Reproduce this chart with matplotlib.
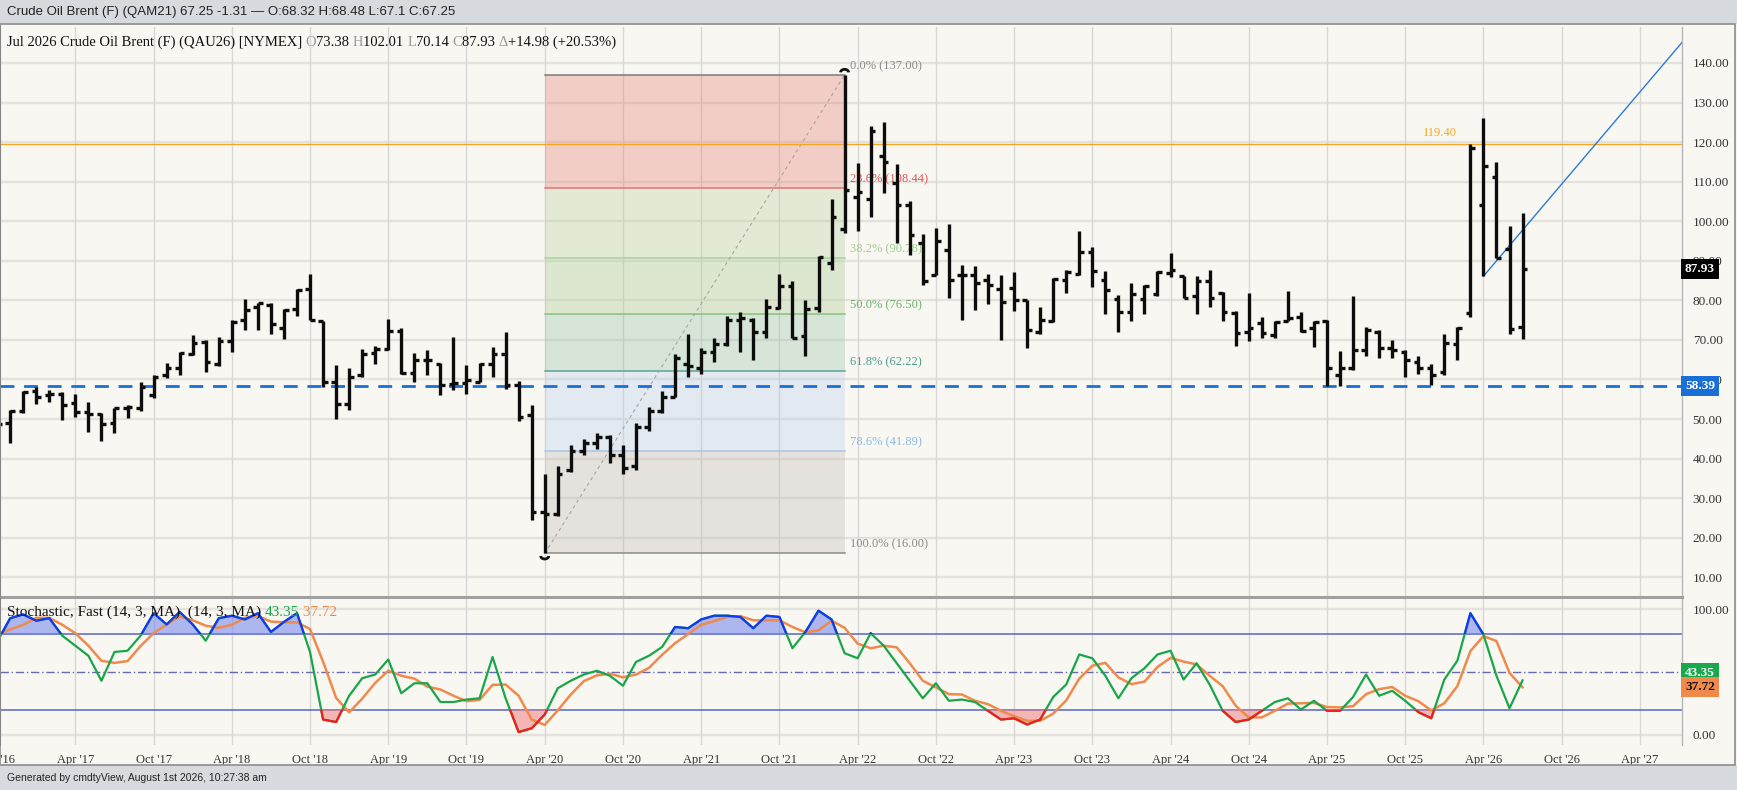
import numpy as np
import pandas as pd
import matplotlib
matplotlib.use('Agg')
import matplotlib.pyplot as plt
import matplotlib.transforms as mtransforms
from matplotlib.collections import LineCollection
from matplotlib.patches import Rectangle, Arc


# monthly bars, Oct 2016 .. Jul 2026
periods = pd.period_range('2016-10', '2026-07', freq='M')

opens = [
    50.0, 48.9, 52.0,
    57.0, 56.0, 56.3, 54.0, 51.8, 51.3, 48.9, 52.7, 52.7, 56.1, 61.1, 62.8,
    66.4, 69.5, 64.0, 69.7, 75.0, 78.3, 78.7, 73.1, 77.9, 82.9, 74.8, 59.4,
    53.8, 61.1, 66.6, 67.6, 72.3, 61.7, 65.0, 64.0, 58.8, 59.0, 59.4, 63.9,
    66.5, 58.5, 51.0, 26.5, 26.0, 37.0, 42.0, 44.0, 45.5, 41.0, 38.0, 48.0,
    52.0, 55.5, 64.0, 63.0, 67.0, 69.0, 75.0, 75.0, 72.0, 78.0, 83.6, 71.0,
    78.0, 89.5, 98.0, 106.0, 105.7, 116.6, 109.6, 104.0, 94.6, 86.3, 92.6, 86.3,
    86.3, 85.2, 82.9, 83.1, 80.0, 72.0, 74.8, 85.2, 86.6, 92.2, 85.2, 80.4,
    77.0, 80.4, 81.6, 86.9, 86.1, 81.2, 84.8, 81.8, 76.8, 71.9, 74.3, 71.3,
    74.7, 75.7, 73.0, 74.7, 61.0, 63.0, 67.5, 72.0, 68.0, 67.0, 64.5, 63.0,
    62.0, 69.0, 76.9, 104.1, 111.2, 92.9, 73.38,
]
highs = [
    53.5, 52.3, 57.2,
    58.2, 57.3, 56.9, 56.3, 54.4, 51.4, 52.9, 53.5, 59.4, 61.1, 64.2, 67.0,
    71.2, 69.9, 70.8, 75.0, 80.4, 79.3, 79.3, 77.9, 82.9, 86.7, 74.8, 63.6,
    63.0, 67.8, 68.4, 75.4, 73.1, 66.6, 67.4, 64.2, 70.8, 63.6, 64.2, 68.1,
    72.0, 59.5, 53.5, 36.0, 38.0, 43.5, 45.0, 46.5, 46.0, 43.5, 49.0, 53.0,
    57.0, 66.5, 71.5, 68.0, 70.5, 76.0, 77.0, 75.5, 80.4, 86.6, 85.0, 80.0,
    91.3, 105.6, 137.0, 114.7, 124.1, 125.1, 114.4, 105.2, 96.7, 98.4, 99.3, 89.0,
    88.7, 86.6, 86.3, 87.1, 80.2, 78.2, 85.6, 87.7, 97.4, 93.5, 87.3, 81.4,
    84.4, 83.9, 87.3, 91.9, 86.1, 86.2, 87.6, 82.1, 77.2, 81.8, 75.9, 74.7,
    82.4, 77.0, 74.7, 75.1, 67.1, 81.0, 73.2, 72.5, 70.0, 67.5, 66.0, 64.0,
    71.6, 73.2, 119.4, 126.0, 115.0, 98.8, 102.01,
]
lows = [
    48.0, 44.0, 51.4,
    53.8, 54.4, 49.7, 50.6, 46.6, 44.5, 46.4, 50.2, 52.1, 55.2, 60.3, 61.1,
    66.1, 61.9, 63.4, 67.0, 72.6, 72.6, 71.4, 70.3, 76.0, 75.0, 58.2, 50.0,
    52.4, 60.7, 64.0, 67.4, 61.5, 59.4, 61.1, 56.1, 57.3, 56.3, 59.4, 60.7,
    57.5, 49.5, 24.5, 16.0, 25.5, 36.5, 41.0, 42.5, 39.0, 36.0, 37.0, 47.0,
    51.5, 55.5, 60.5, 61.5, 64.5, 68.5, 67.0, 65.0, 70.6, 77.7, 70.6, 66.0,
    77.0, 87.6, 97.0, 97.6, 101.0, 107.1, 94.5, 91.5, 83.8, 86.3, 80.6, 75.1,
    77.6, 79.1, 70.0, 77.2, 67.9, 71.5, 74.5, 81.8, 86.5, 83.4, 76.5, 72.1,
    74.7, 76.5, 81.0, 85.8, 80.6, 76.5, 78.2, 74.8, 68.4, 69.6, 70.5, 70.6,
    74.7, 72.1, 68.1, 58.4, 58.4, 62.5, 66.0, 65.5, 65.5, 60.5, 61.5, 58.5,
    61.0, 65.0, 75.8, 86.1, 90.8, 71.4, 70.14,
]
closes = [
    48.7, 52.1, 56.8,
    55.6, 56.3, 53.5, 51.8, 51.3, 48.7, 52.9, 53.1, 58.2, 60.7, 62.8, 66.6,
    69.1, 64.5, 69.7, 74.5, 77.5, 79.2, 74.0, 77.5, 82.7, 75.0, 59.4, 53.8,
    60.7, 66.4, 67.6, 72.3, 61.7, 65.0, 64.9, 58.6, 59.2, 59.8, 63.9, 66.4,
    58.5, 50.5, 26.5, 26.0, 36.0, 42.0, 44.0, 45.5, 41.0, 37.5, 48.0, 52.0,
    55.5, 65.5, 63.5, 67.0, 69.0, 75.0, 75.5, 72.0, 78.4, 83.6, 70.6, 77.7,
    91.0, 101.0, 108.0, 107.3, 122.9, 114.9, 104.0, 96.4, 85.0, 94.9, 85.2, 86.3,
    84.4, 83.9, 79.7, 80.2, 72.4, 75.1, 85.5, 87.1, 92.2, 87.3, 82.7, 77.0,
    81.6, 83.5, 87.1, 87.7, 80.7, 85.0, 80.6, 77.0, 71.7, 73.0, 71.7, 74.5,
    75.5, 72.3, 74.5, 62.9, 63.0, 67.5, 72.5, 68.0, 67.5, 65.0, 63.0, 61.0,
    69.3, 73.0, 118.6, 113.9, 90.8, 72.7, 87.93,
]

# stochastic fast (14, 3): %K and %D
stoch_k = [
    74, 93, 96,
    91, 93, 79, 71, 63, 43, 66, 67, 79, 97, 88, 98,
    88, 75, 93, 95, 92, 97, 82, 90, 97, 66, 12, 10,
    31, 45, 48, 60, 33, 41, 41, 26, 26, 28, 29, 62,
    29, 2, 5, 16, 37, 43, 48, 51, 47, 39, 58, 63,
    70, 86, 85, 92, 95, 95, 94, 85, 95, 94, 69, 82,
    99, 92, 65, 61, 81, 71, 57, 43, 29, 41, 27, 28,
    26, 19, 12, 13, 8, 12, 30, 40, 64, 61, 47, 29,
    45, 53, 64, 67, 44, 57, 40, 19, 10, 12, 19, 26,
    29, 20, 27, 19, 19, 30, 48, 31, 35, 27, 18, 13,
    44, 59, 97, 80, 47, 21, 43.35,
]
stoch_d = [
    80, 84, 87.7,
    93.3, 93.3, 87.7, 81, 71, 59, 57.3, 58.7, 70.7, 81, 88, 94.3,
    91.3, 87, 85.3, 87.7, 93.3, 94.7, 90.3, 89.7, 89.7, 84.3, 58.3, 29.3,
    17.7, 28.7, 41.3, 51, 47, 44.7, 38.3, 36, 31, 26.7, 27.7, 39.7,
    40, 31, 12, 7.7, 19.3, 32, 42.7, 47.3, 48.7, 45.7, 48, 53.3,
    63.7, 73, 80.3, 87.7, 90.7, 94, 94.7, 91.3, 91.3, 91.3, 86, 81.7,
    83.3, 91, 85.3, 72.7, 69, 71, 69.7, 57, 43, 37.7, 32.3, 32,
    27, 24.3, 19, 14.7, 11, 11, 16.7, 27.3, 44.7, 55, 57.3, 45.7,
    40.3, 42.3, 54, 61.3, 58.3, 56, 47, 38.7, 23, 13.7, 13.7, 19,
    24.7, 25, 25.3, 22, 21.7, 22.7, 32.3, 36.3, 38, 31, 26.7, 19.3,
    25, 38.7, 66.7, 78.7, 74.7, 49.3, 37.72,
]

# fibonacci retracement (Apr 2020 low -> Mar 2022 high)
fib_pcts = ['0.0%', '23.6%', '38.2%', '50.0%', '61.8%', '78.6%', '100.0%']
fib_prices = [137.00, 108.44, 90.78, 76.50, 62.22, 41.89, 16.00]
fib_line_colors = ['#7a7a7a', '#e57373', '#a9d39c', '#86c07f', '#5aa394', '#a6c6e8', '#8a8a8a']
fib_text_colors = ['#8a8a8a', '#e0555a', '#9fcf8f', '#6db26a', '#4f9c8c', '#8ab8e2', '#8a8a8a']
fib_fills = ['#e67a6e', '#b4d2a0', '#a6c98f', '#93bfa8', '#b4cdf0', '#bdb8b6']
fib_start, fib_end = '2020-04', '2022-03'

resistance = 119.40
support = 58.39
trend_start = ('2026-04', 86.1)
trend_slope = 3.88          # per month

xtick_labels = ["Apr '17", "Oct '17", "Apr '18", "Oct '18", "Apr '19", "Oct '19",
                "Apr '20", "Oct '20", "Apr '21", "Oct '21", "Apr '22", "Oct '22",
                "Apr '23", "Oct '23", "Apr '24", "Oct '24", "Apr '25", "Oct '25",
                "Apr '26", "Oct '26", "Apr '27"]


def mi(p):
    p = pd.Period(p, freq='M')
    return (p.year - 2016) * 12 + p.month - 1


x = np.array([(p.year - 2016) * 12 + p.month - 1 for p in periods], dtype=float)
o, h, l, c = map(np.array, (opens, highs, lows, closes))
k = np.array(stoch_k, dtype=float)
d = np.array(stoch_d, dtype=float)

plt.rcParams['font.family'] = ['Liberation Serif', 'DejaVu Serif']

CREAM = '#f9f7f1'
W, H = 1568.0, 713.0


def fx(px):
    return px / W


def fy(py):
    return 1 - py / H


fig = plt.figure(figsize=(17.37, 7.90), dpi=100, facecolor=CREAM)

# header / footer bands
fig.add_artist(Rectangle((0, fy(22)), 1, 1 - fy(22), transform=fig.transFigure,
                         facecolor='#d7dbdf', edgecolor='none'))
fig.add_artist(Rectangle((0, 0), 1, fy(690), transform=fig.transFigure,
                         facecolor='#d7dbdf', edgecolor='none'))
fig.add_artist(Rectangle((0, fy(690)), fx(1566), fy(22) - fy(690), transform=fig.transFigure,
                         facecolor='none', edgecolor='#8c8c8c', lw=1.2))
fig.text(fx(6), fy(11), 'Crude Oil Brent (F) (QAM21) 67.25 -1.31 \u2014 O:68.32 H:68.48 L:67.1 C:67.25',
         family='Liberation Sans', fontsize=9.5, color='#222222', va='center')
fig.text(fx(6), fy(702), 'Generated by cmdtyView, August 1st 2026, 10:27:38 am',
         family='Liberation Sans', fontsize=7.5, color='#222222', va='center')

ax = fig.add_axes([0, fy(539), fx(1518), fy(24) - fy(539)])
ax2 = fig.add_axes([0, fy(672), fx(1518), fy(541) - fy(672)], sharex=ax)
for a in (ax, ax2):
    a.set_facecolor(CREAM)
    a.spines['top'].set_visible(False)
    a.spines['left'].set_color('#666666')
    a.spines['left'].set_linewidth(1.5)
    a.spines['right'].set_color('#b5b5b5')
    a.spines['right'].set_linewidth(1)
ax.spines['bottom'].set_color('#a0a0a0')
ax.spines['bottom'].set_linewidth(2.2)
ax2.spines['bottom'].set_visible(False)

xmin, xmax = 9.22, 138.2
ax.set_xlim(xmin, xmax)
ax.set_ylim(4.95, 149.2)
ax2.set_ylim(-8, 108)

xticks = [mi('2017-04') + 6 * i for i in range(len(xtick_labels))]

# grid
for v in range(10, 150, 10):
    ax.axhline(v, color='#e4e2dd', lw=1.7, zorder=0)
for v in (0, 100):
    ax2.axhline(v, color='#e4e2dd', lw=1.7, zorder=0)
for t in xticks:
    ax.axvline(t, color='#d7d7d7', lw=1, zorder=0)
    ax2.axvline(t, color='#d7d7d7', lw=1, zorder=0)

# fibonacci zones
f0, f1 = mi(fib_start), mi(fib_end)
for i in range(len(fib_prices) - 1):
    ax.fill_between([f0, f1], fib_prices[i + 1], fib_prices[i], color=fib_fills[i],
                    alpha=0.33, lw=0, zorder=0.5)
for i, (pct, pr) in enumerate(zip(fib_pcts, fib_prices)):
    ax.plot([f0, f1], [pr, pr], color=fib_line_colors[i], lw=1.1, zorder=1)
    ax.annotate(f'{pct} ({pr:.2f})', (f1, pr), xytext=(4, 2), textcoords='offset points',
                fontsize=9, color=fib_text_colors[i], ha='left', va='bottom', zorder=2)
ax.plot([f0, f1], [fib_prices[-1], fib_prices[0]], color='#a5a5a5', lw=0.8,
        dashes=(3, 3), zorder=1)
top_tr = fig.dpi_scale_trans + mtransforms.ScaledTranslation(f1, fib_prices[0], ax.transData)
ax.add_patch(Arc((0, 0.025), 0.08, 0.06, theta1=0, theta2=180, transform=top_tr,
                 color='#111111', lw=2, zorder=4))
bot_tr = fig.dpi_scale_trans + mtransforms.ScaledTranslation(f0, fib_prices[-1], ax.transData)
ax.add_patch(Arc((0, -0.025), 0.08, 0.06, theta1=180, theta2=360, transform=bot_tr,
                 color='#111111', lw=2, zorder=4))

# horizontal levels and trend line
ax.axhline(resistance, color='#f5a623', lw=1, zorder=2)
ax.annotate(f'{resistance:.2f}', (119.7, resistance), xytext=(0, 4), textcoords='offset points',
            ha='center', va='bottom', fontsize=9, color='#f5a623')
ax.axhline(support, color='#1a6fd6', lw=2, dashes=(5, 3.5), zorder=2)
ts = mi(trend_start[0])
ax.plot([ts, ts + 20], [trend_start[1], trend_start[1] + 20 * trend_slope],
        color='#2b7bd8', lw=1, zorder=2)

# OHLC bars
tk = 0.36
segs = []
for xi, oi, hi, li, ci in zip(x, o, h, l, c):
    segs.append([(xi, li), (xi, hi)])
    segs.append([(xi - tk, oi), (xi, oi)])
    segs.append([(xi, ci), (xi + tk, ci)])
ax.add_collection(LineCollection(segs, colors='#0d0d0d', linewidths=2.4,
                                 capstyle='butt', zorder=3))

# title line with grey O/H/L/C letters
pieces = [('Jul 2026 Crude Oil Brent (F) (QAU26) [NYMEX] ', '#111111'), ('O', '#9a9a9a'),
          ('73.38 ', '#111111'), ('H', '#9a9a9a'), ('102.01 ', '#111111'), ('L', '#9a9a9a'),
          ('70.14 ', '#111111'), ('C', '#9a9a9a'), ('87.93 ', '#111111'),
          ('\u0394', '#9a9a9a'), ('+14.98 (+20.53%)', '#111111')]
prev = ax.text(0.004, 0.973, pieces[0][0], transform=ax.transAxes, fontsize=10.5,
               color=pieces[0][1], va='center', ha='left')
for s, col in pieces[1:]:
    prev = ax.annotate(s, xy=(1, 0), xycoords=prev, fontsize=10.5, color=col,
                       va='bottom', ha='left')

# right axis
ax.yaxis.tick_right()
ax.set_yticks(range(10, 150, 10))
ax.set_yticklabels([f'{v:.2f}' for v in range(10, 150, 10)])
ax.tick_params(axis='y', length=0, pad=8, labelsize=9.5, labelcolor='#333333')
ax.tick_params(axis='x', bottom=False, labelbottom=False)

btr = mtransforms.blended_transform_factory(ax.transAxes, ax.transData)
ax.text(1.002, closes[-1], f'{closes[-1]:.2f}', transform=btr, ha='left', va='center',
        fontsize=9.5, fontweight='bold', color='white', zorder=6,
        bbox=dict(boxstyle='square,pad=0.3', fc='#000000', ec='none'))
ax.text(1.002, support, f'{support:.2f}', transform=btr, ha='left', va='center',
        fontsize=9.5, fontweight='bold', color='white', zorder=6,
        bbox=dict(boxstyle='square,pad=0.3', fc='#1a6fd6', ec='none'))

# stochastic panel
ax2.axhline(80, color='#5566c8', lw=1.1, zorder=1)
ax2.axhline(20, color='#5566c8', lw=1.1, zorder=1)
ax2.axhline(50, color='#6a6ab0', lw=1, dashes=(6, 2, 1, 2), zorder=1)
ax2.fill_between(x, k, 80, where=k >= 80, interpolate=True, color='#6f82ee',
                 alpha=0.55, lw=0, zorder=1.5)
ax2.fill_between(x, k, 20, where=k <= 20, interpolate=True, color='#f07f85',
                 alpha=0.55, lw=0, zorder=1.5)
ax2.plot(x, d, color='#f08a4b', lw=1.8, zorder=2)
ax2.plot(x, k, color='#19a64a', lw=1.6, zorder=3)
hi_line, = ax2.plot(x, k, color='#1438f2', lw=1.6, zorder=3.1)
hi_line.set_clip_path(Rectangle((0, 80), 200, 100, transform=ax2.transData))
lo_line, = ax2.plot(x, k, color='#f41c1c', lw=1.6, zorder=3.1)
lo_line.set_clip_path(Rectangle((0, -50), 200, 70, transform=ax2.transData))

spieces = [('Stochastic, Fast (14, 3, MA)  (14, 3, MA) ', '#111111'),
           (f'{stoch_k[-1]:.2f}', '#19a64a'), (f' {stoch_d[-1]:.2f}', '#f08a4b')]
prev = ax2.text(0.004, 0.915, spieces[0][0], transform=ax2.transAxes, fontsize=11,
                color=spieces[0][1], va='center', ha='left', zorder=5)
for s, col in spieces[1:]:
    prev = ax2.annotate(s, xy=(1, 0), xycoords=prev, fontsize=11, color=col,
                        va='bottom', ha='left', zorder=5)

ax2.yaxis.tick_right()
ax2.set_yticks([0, 100])
ax2.set_yticklabels(['0.00', '100.00'])
ax2.tick_params(axis='y', length=0, pad=8, labelsize=9.5, labelcolor='#333333')
btr2 = mtransforms.blended_transform_factory(ax2.transAxes, ax2.transData)
ax2.text(1.002, 49.5, f'{stoch_k[-1]:.2f}', transform=btr2, ha='left', va='center',
         fontsize=9.5, fontweight='bold', color='white', zorder=6,
         bbox=dict(boxstyle='square,pad=0.3', fc='#1aa84c', ec='none'))
ax2.text(1.002, stoch_d[-1], f'{stoch_d[-1]:.2f}', transform=btr2, ha='left', va='center',
         fontsize=9.5, fontweight='bold', color='#111111', zorder=7,
         bbox=dict(boxstyle='square,pad=0.3', fc='#f08a4b', ec='none'))

ax2.set_xticks(xticks)
ax2.set_xticklabels(xtick_labels)
ax2.tick_params(axis='x', length=0, pad=7, labelsize=9, labelcolor='#333333')
ax2.text(mi('2016-10'), -0.067, "Oct '16", transform=mtransforms.blended_transform_factory(
    ax2.transData, ax2.transAxes), ha='center', va='top', fontsize=9, color='#333333',
    clip_on=False)
ax2.set_xlim(xmin, xmax)

fig.savefig('out.png', dpi=100, facecolor=fig.get_facecolor())
